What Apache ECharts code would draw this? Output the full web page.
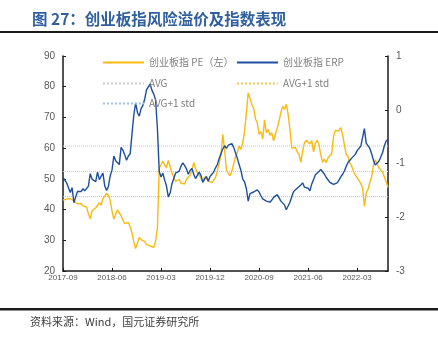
<!DOCTYPE html>
<html>
<head>
<meta charset="utf-8">
<script src="https://cdn.jsdelivr.net/npm/echarts@6/dist/echarts.min.js"></script>
<style>
  html, body { margin: 0; padding: 0; background: #ffffff; }
  #chart { width: 438px; height: 339px; }
</style>
</head>
<body>
<div id="chart"></div>
<script>
// Sampling: three readings per month, starting 2017-09
const startYear = 2017;
const startMonth = 9;
const samplesPerMonth = 3;

// 创业板指 PE (left axis)
const peValues = [
  43.1, 42.6, 43.4,  43.0, 43.6, 44.0,  42.8, 42.3, 41.9,  41.5, 41.9, 41.2,
  41.6, 40.8, 38.6,  37.0, 39.5, 39.8,  40.6, 41.0, 42.2,  41.5, 43.6, 44.3,
  45.3, 44.6, 43.0,  39.5, 36.9, 38.4,  39.9, 40.4, 38.0,  36.6, 35.4, 35.9,
  35.8, 34.4, 32.4,  29.5, 27.3, 29.0,  30.9, 30.2, 30.4,  29.6, 28.6, 28.8,
  28.2, 27.9, 27.6,  29.8, 34.0, 53.5,  54.6, 55.8, 54.5,  53.7, 56.0, 55.8,
  52.0, 50.5, 49.2,  48.8, 49.8, 48.6,  49.0, 48.3, 49.9,  50.5, 51.2, 52.8,
  55.3, 53.4, 52.0,  51.2, 50.2, 49.3,  50.6, 50.4, 49.3,  49.9, 48.8, 48.2,
  50.4, 52.6, 55.0,  57.8, 64.5, 59.6,  53.0, 51.8, 51.0,  52.5, 54.8, 57.2,
  58.6, 60.7, 59.6,  61.8, 65.4, 71.5,  78.0, 76.2, 74.2,  73.0, 69.5, 68.3,
  64.5, 65.4, 63.0,  69.2, 65.0, 66.1,  64.2, 65.0, 62.4,  64.6, 66.5, 68.9,
  71.6, 73.6, 72.6,  74.3, 71.0, 66.0,  60.0, 59.6, 60.2,  58.8, 58.0, 55.4,
  59.1, 61.8, 62.6,  62.8, 61.3, 62.5,  58.8, 61.5, 62.6,  61.0, 57.8, 55.4,
  56.4, 55.3, 56.9,  56.4, 58.2, 63.8,  65.8, 66.1, 65.6,  66.7, 64.4, 61.0,
  58.0, 57.2, 55.1,  54.2, 52.4, 51.2,  50.4, 50.6, 48.5,  47.0, 41.0, 45.3,
  46.6, 48.8, 50.6,  54.6, 56.2, 56.2,  53.6, 54.0, 52.2,  52.6, 49.0, 47.2
];

// 创业板指 ERP (right axis)
const erpValues = [
  -1.26, -1.31, -1.36,  -1.45, -1.54, -1.45,  -1.73, -1.62, -1.52,  -1.50, -1.52, -1.47,
  -1.51, -1.54, -1.42,  -1.19, -1.29, -1.26,  -1.34, -1.16, -1.30,  -1.30, -1.18, -1.42,
  -1.50, -1.43, -1.23,  -1.12, -0.86, -0.95,  -0.98, -1.02, -0.70,  -0.75, -0.84, -0.94,
  -0.86, -0.82, -0.45,  -0.10,  0.13, -0.05,  -0.12,  0.02,  0.08,   0.20,  0.37,  0.35,
   0.48,  0.36,  0.29,   0.18, -0.35, -1.15,  -1.25, -1.18, -1.31,  -1.42, -1.62, -1.55,
  -1.38, -1.28, -1.18,  -1.16, -1.14, -1.05,  -0.99, -1.04, -1.10,  -1.20, -1.13, -1.09,
  -1.20, -1.28, -1.27,  -1.16, -1.22, -1.35,  -1.29, -1.24, -1.33,  -1.24, -1.20, -1.16,
  -1.08, -1.02, -0.91,  -0.82, -0.73, -0.67,  -0.72, -0.66, -0.65,  -0.63, -0.70, -0.80,
  -0.90, -1.02, -1.13,  -1.29, -1.34, -1.47,  -1.70, -1.56, -1.58,  -1.53, -1.55, -1.49,
  -1.53, -1.60, -1.66,  -1.64, -1.70, -1.67,  -1.72, -1.68, -1.63,  -1.64, -1.58, -1.60,
  -1.70, -1.73, -1.77,  -1.86, -1.88, -1.72,  -1.62, -1.52, -1.50,  -1.46, -1.47, -1.40,
  -1.36, -1.44, -1.42,  -1.46, -1.51, -1.38,  -1.30, -1.21, -1.18,  -1.15, -1.11, -1.14,
  -1.20, -1.26, -1.29,  -1.35, -1.33, -1.39,  -1.37, -1.36, -1.31,  -1.25, -1.20, -1.14,
  -1.05, -0.98, -0.94,  -0.90, -0.92, -0.83,  -0.76, -0.73, -0.68,  -0.52, -0.35, -0.62,
  -0.61, -0.72, -0.82,  -0.94, -1.03, -1.01,  -0.96, -0.88, -0.80,  -0.67, -0.58, -0.55
];

// PE reference levels (left axis)
const peAvg = 52.4;
const pePlusStd = 60.7;
const peMinusStd = 44.2;

// Tick labels on the time axis, one every 9 months
const xTickLabels = ['2017-09', '2018-06', '2019-03', '2019-12', '2020-09', '2021-06', '2022-03'];
const xTickStep = 9;

const legendText = {
  pe: '创业板指 PE（左）',
  erp: '创业板指 ERP',
  avg: 'AVG',
  plus: 'AVG+1 std',
  minus: 'AVG+1 std'
};

const xMax = (peValues.length - 1) / samplesPerMonth;
const toPoints = arr => arr.map((v, i) => [i / samplesPerMonth, v]);
const flat = v => [[0, v], [xMax, v]];

const FONT = '"Liberation Sans", Arial, "Noto Sans CJK SC", sans-serif';
const CJK = '"Noto Sans CJK SC", "Liberation Sans", sans-serif';

const chart = echarts.init(document.getElementById('chart'), null, { renderer: 'canvas' });

const legendBase = {
  orient: 'horizontal',
  itemWidth: 41,
  itemHeight: 14,
  itemGap: 0,
  padding: 0,
  selectedMode: false,
  itemStyle: { opacity: 0, borderWidth: 0 },
  textStyle: { fontSize: 10, color: '#7f7f7f', fontFamily: CJK },
  formatter: name => legendText[name]
};

const axisLineStyle = { color: '#1a1a1a', width: 1.5 };
const tickStyle = { show: true, inside: true, length: 3, lineStyle: { color: '#1a1a1a' } };

chart.setOption({
  animation: false,
  backgroundColor: '#ffffff',
  grid: { left: 63, right: 50, top: 56, bottom: 68, outerBoundsMode: 'none' },
  legend: [
    Object.assign({}, legendBase, { data: ['pe'], left: 102, top: 57 }),
    Object.assign({}, legendBase, { data: ['erp'], left: 236, top: 57 }),
    Object.assign({}, legendBase, { data: ['avg'], left: 102, top: 78 }),
    Object.assign({}, legendBase, { data: ['plus'], left: 236, top: 78 }),
    Object.assign({}, legendBase, { data: ['minus'], left: 102, top: 98 })
  ],
  xAxis: {
    type: 'value',
    min: 0,
    max: xMax,
    interval: xTickStep,
    splitLine: { show: false },
    axisLine: { onZero: false, lineStyle: axisLineStyle },
    axisTick: tickStyle,
    axisLabel: {
      fontSize: 8,
      color: '#595959',
      fontFamily: FONT,
      margin: 3,
      showMaxLabel: false,
      formatter: v => {
        const k = Math.round(v / xTickStep);
        return Math.abs(v - k * xTickStep) < 1e-6 && xTickLabels[k] ? xTickLabels[k] : '';
      }
    }
  },
  yAxis: [
    {
      type: 'value',
      min: 20,
      max: 90,
      interval: 10,
      splitLine: { show: false },
      axisLine: { show: true, onZero: false, lineStyle: axisLineStyle },
      axisTick: tickStyle,
      axisLabel: { fontSize: 10, color: '#595959', fontFamily: FONT, margin: 8 }
    },
    {
      type: 'value',
      min: -3,
      max: 1,
      interval: 1,
      position: 'right',
      splitLine: { show: false },
      axisLine: { show: true, onZero: false, lineStyle: axisLineStyle },
      axisTick: tickStyle,
      axisLabel: { fontSize: 10, color: '#595959', fontFamily: FONT, margin: 8 }
    }
  ],
  series: [
    {
      name: 'avg', type: 'line', yAxisIndex: 0, data: flat(peAvg),
      symbol: 'none', silent: true,
      itemStyle: { color: '#c9c9c9' },
      lineStyle: { color: '#c9c9c9', width: 1, type: 'dotted' }, z: 1
    },
    {
      name: 'plus', type: 'line', yAxisIndex: 0, data: flat(pePlusStd),
      symbol: 'none', silent: true,
      itemStyle: { color: '#f8c94f' },
      lineStyle: { color: '#f8c94f', width: 1, type: 'dotted' }, z: 1
    },
    {
      name: 'minus', type: 'line', yAxisIndex: 0, data: flat(peMinusStd),
      symbol: 'none', silent: true,
      itemStyle: { color: '#9dc3e6' },
      lineStyle: { color: '#9dc3e6', width: 1, type: 'dotted' }, z: 1
    },
    {
      name: 'pe', type: 'line', yAxisIndex: 0, data: toPoints(peValues),
      symbol: 'none',
      itemStyle: { color: '#fbb911' },
      lineStyle: { color: '#fbb911', width: 1.4 }, z: 2
    },
    {
      name: 'erp', type: 'line', yAxisIndex: 1, data: toPoints(erpValues),
      symbol: 'none',
      itemStyle: { color: '#1c4fa0' },
      lineStyle: { color: '#1c4fa0', width: 1.4 }, z: 3
    }
  ],
  graphic: [
    {
      type: 'text', left: 32, top: 11,
      style: {
        text: '图 27：创业板指风险溢价及指数表现',
        fill: '#2f5f9e',
        font: 'bold 15.5px ' + CJK
      }
    },
    { type: 'rect', left: 0, top: 31, shape: { width: 438, height: 2 }, style: { fill: '#1a1a1a' } },
    { type: 'rect', left: 0, top: 308, shape: { width: 438, height: 2.5 }, style: { fill: '#1a1a1a' } },
    {
      type: 'text', left: 30, top: 316,
      style: {
        text: '资料来源：Wind，国元证券研究所',
        fill: '#404040',
        font: '11px ' + CJK
      }
    }
  ]
});
</script>
</body>
</html>
